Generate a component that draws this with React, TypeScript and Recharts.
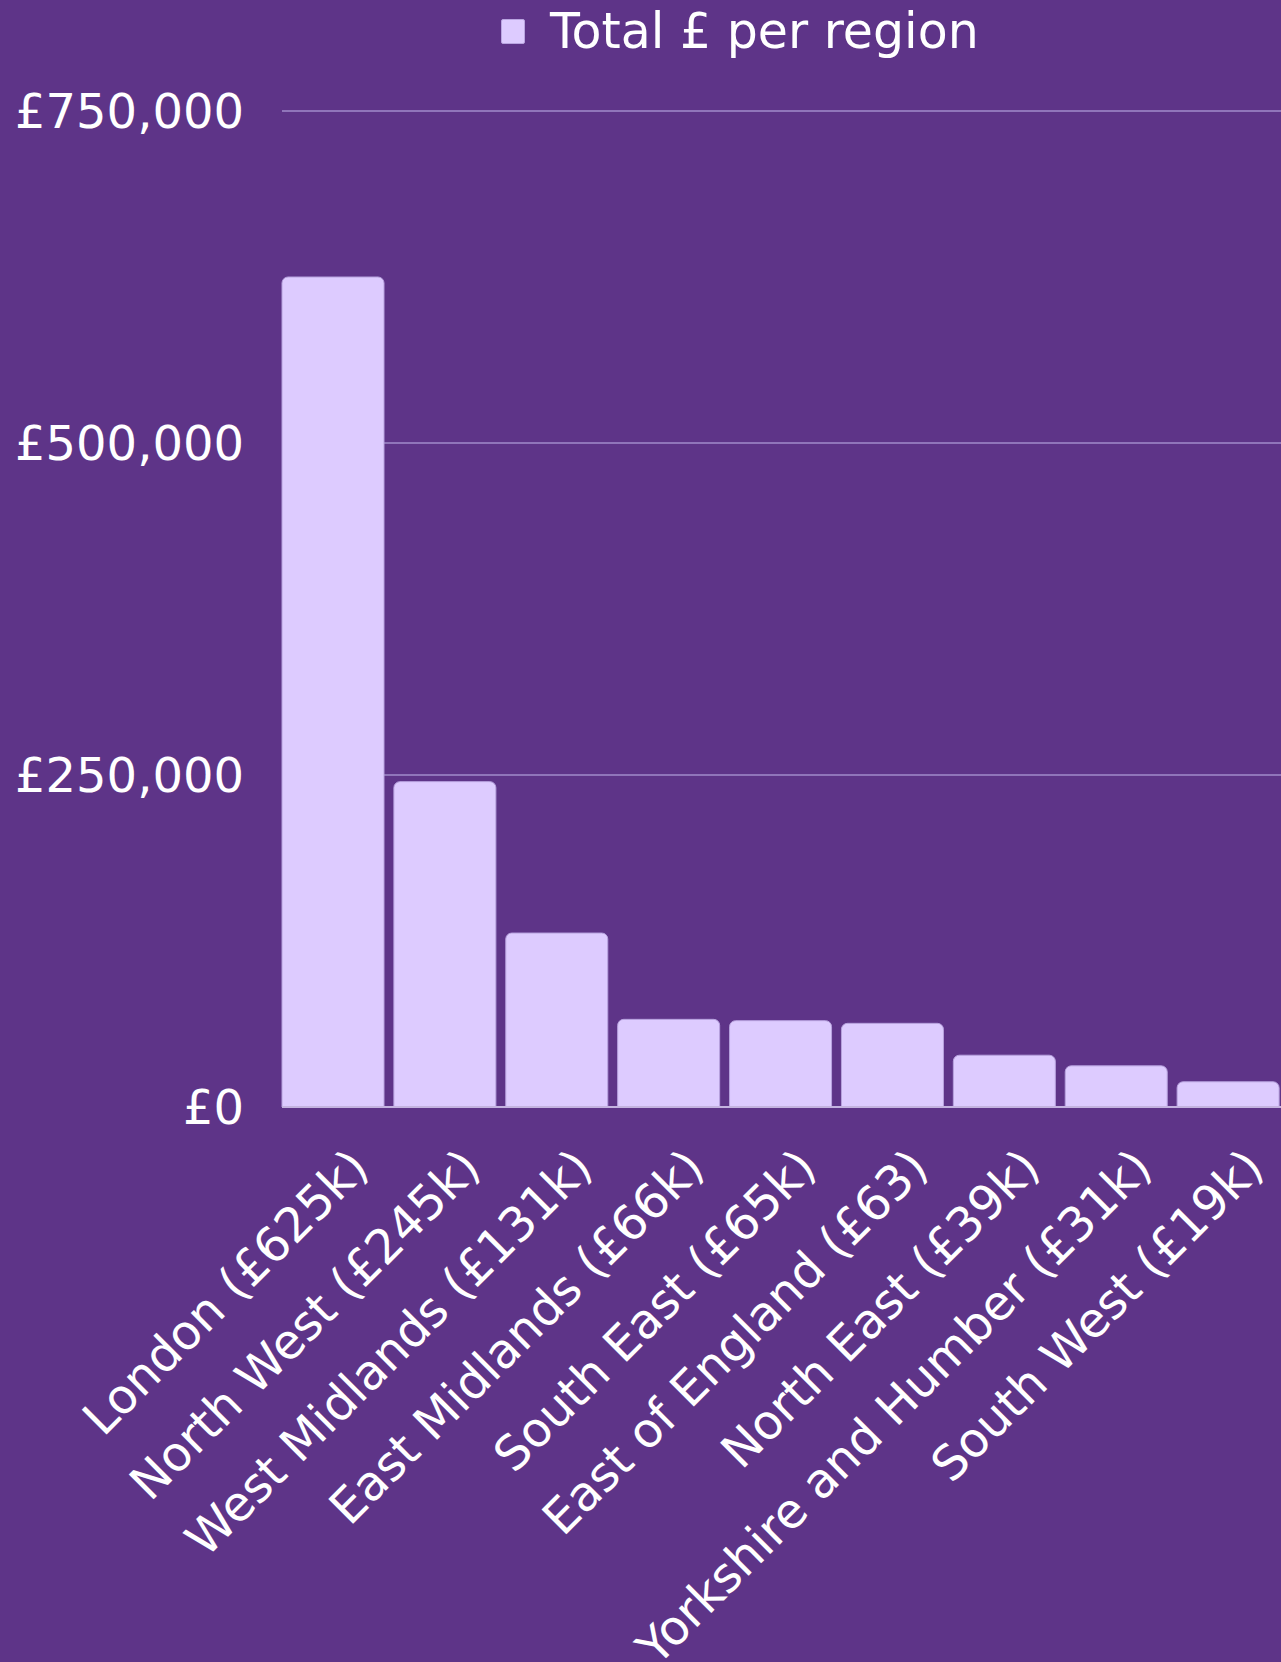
import React from "react";
import { BarChart, Bar, XAxis, YAxis, CartesianGrid } from "recharts";

const regions = [
  "London (£625k)",
  "North West (£245k)",
  "West Midlands (£131k)",
  "East Midlands (£66k)",
  "South East (£65k)",
  "East of England (£63)",
  "North East (£39k)",
  "Yorkshire and Humber (£31k)",
  "South West (£19k)",
];
const totals = [625000, 245000, 131000, 66000, 65000, 63000, 39000, 31000, 19000];
const yTicks = [0, 250000, 500000, 750000];
const seriesName = "Total £ per region";

const data = regions.map((r, i) => ({ region: r, total: totals[i] }));

const BG = "#5e3488";
const BAR = "#ddcbff";
const FONT = "'DejaVu Sans', sans-serif";

const fmt = (v: number) => "£" + v.toLocaleString("en-GB");

const XTick = (props: any) => {
  const { x, y, payload } = props;
  const ax = x + 38;
  const ay = y + 63;
  return (
    <text
      x={ax}
      y={ay}
      textAnchor="end"
      fill="#ffffff"
      fontSize={48}
      fontFamily={FONT}
      transform={`rotate(-45 ${ax} ${ay})`}
    >
      {payload.value}
    </text>
  );
};

export default function App() {
  return (
    <div
      style={{
        position: "absolute",
        left: 0,
        top: 0,
        width: 1281,
        height: 1662,
        overflow: "hidden",
        background: BG,
      }}
    >
      <div
        style={{
          position: "absolute",
          left: 501,
          top: 3,
          display: "flex",
          alignItems: "center",
          fontFamily: FONT,
          fontSize: 49,
          color: "#ffffff",
          whiteSpace: "nowrap",
        }}
      >
        <span
          style={{
            display: "inline-block",
            width: 24,
            height: 25,
            background: BAR,
            border: "1px solid #b9a4e0",
            borderRadius: 2,
            marginRight: 25,
            boxSizing: "border-box",
          }}
        />
        <span>{seriesName}</span>
      </div>
      <BarChart
        width={1284}
        height={1662}
        data={data}
        margin={{ top: 111, right: 0, bottom: 0, left: 0 }}
        barSize={102}
      >
        <CartesianGrid
          vertical={false}
          stroke="#9075ba"
          strokeWidth={2}
        />
        <XAxis
          dataKey="region"
          interval={0}
          height={555}
          tickSize={0}
          tickMargin={0}
          padding={{ left: -5, right: 0 }}
          axisLine={{ stroke: "#c4b3e0", strokeWidth: 2 }}
          tickLine={false}
          tick={<XTick />}
        />
        <YAxis
          width={282}
          domain={[0, 750000]}
          ticks={yTicks}
          tickFormatter={fmt}
          axisLine={false}
          tickLine={false}
          tickMargin={32}
          tick={{ fill: "#ffffff", fontSize: 48, fontFamily: FONT }}
        />
        <Bar
          dataKey="total"
          name={seriesName}
          fill={BAR}
          stroke="#b7a2de"
          strokeWidth={1}
          radius={[6, 6, 0, 0]}
          isAnimationActive={false}
        />
      </BarChart>
    </div>
  );
}
